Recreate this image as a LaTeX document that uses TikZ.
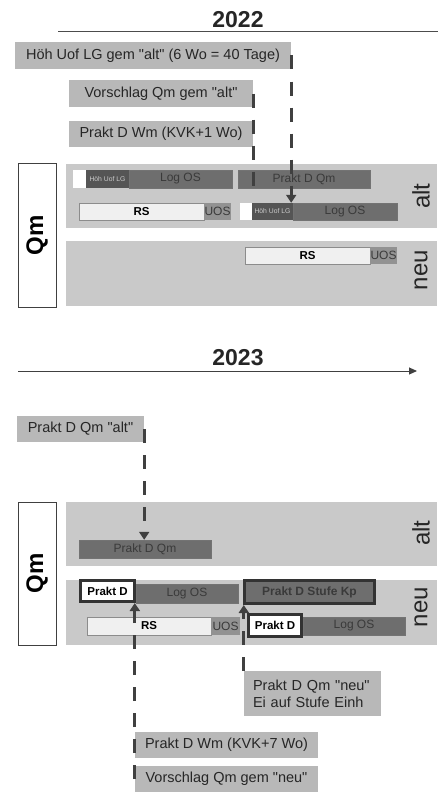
\documentclass[tikz,border=0pt]{standalone}
\usepackage{fontspec}
\setmainfont{Liberation Sans}
\usetikzlibrary{arrows.meta}

\definecolor{bandgray}{HTML}{C9C9C9}
\definecolor{taggray}{HTML}{B8B8B8}
\definecolor{bargray}{HTML}{6E6E6E}
\definecolor{hohgray}{HTML}{555555}
\definecolor{uosgray}{HTML}{929292}
\definecolor{rsgray}{HTML}{F0F0F0}
\definecolor{inkgray}{HTML}{3A3A3A}

\newcommand{\qq}[1]{\textquotedbl #1\textquotedbl}

\begin{document}
\begin{tikzpicture}[x=1pt, y=-1pt,
  year/.style={font=\fontsize{23}{26}\selectfont\bfseries, text=black!85},
  tag/.style={fill=taggray, inner sep=0pt, minimum height=27pt,
    font=\fontsize{14.5}{17}\selectfont, text=black!85},
  band/.style={fill=bandgray, inner sep=0pt, minimum width=371pt},
  qmbox/.style={draw=black!75, fill=white, thick, inner sep=0pt,
    minimum height=38pt, rotate=90, font=\fontsize{24}{26}\selectfont\bfseries},
  side/.style={rotate=90, font=\fontsize{24}{26}\selectfont, text=black!85},
  bar/.style={draw=black!55, fill=bargray, inner sep=0pt, minimum height=18pt,
    text=inkgray, font=\fontsize{12}{14}\selectfont},
  hohbar/.style={fill=hohgray, inner sep=0pt, minimum height=18pt,
    text=black!20, font=\fontsize{6.8}{8}\selectfont},
  blank/.style={fill=white, inner sep=0pt, minimum height=18pt},
  rsbar/.style={draw=black!45, fill=rsgray, inner sep=0pt, minimum height=18pt,
    font=\fontsize{11.5}{14}\selectfont\bfseries},
  uosbar/.style={fill=uosgray, inner sep=0pt, minimum height=18pt,
    text=inkgray, font=\fontsize{12}{14}\selectfont},
  framed/.style={draw=black!80, line width=3pt, inner sep=0pt},
  dline/.style={draw=black!75, line width=3pt, dash pattern=on 14pt off 12pt},
  darr/.style={dline, -{Triangle[width=10pt,length=8pt]}}
]
\useasboundingbox (0,0) rectangle (441,792);

% ---- 2022 ----
\node[year] (y22) at (238,20) {2022};
\draw[black!70, line width=1pt] (58,32) -- (438,32);

\node[tag, minimum width=276pt] (hoh22) at (153,55.5) {Höh Uof LG gem \qq{alt} (6 Wo = 40 Tage)};
\node[tag, minimum width=184pt] (vor22) at (161,93.5) {Vorschlag Qm gem \qq{alt}};
\node[tag, minimum width=184pt, minimum height=26pt] (wm22) at (161,134) {Prakt D Wm (KVK+1 Wo)};

\node[qmbox, minimum width=144pt] (qm22) at (37,235) {Qm};
\node[band, minimum height=64pt] (alt22) at (251.5,196) {};
\node[band, minimum height=65pt] (neu22) at (251.5,273.5) {};
\node[side] (altl22) at (421,196) {alt};
\node[side] (neul22) at (421,270) {neu};

\node[blank, minimum width=13pt] (w1) at (79.5,179) {};
\node[hohbar, minimum width=43pt] (hoh1) at (107.5,179) {Höh Uof LG};
\node[bar, minimum width=103pt] (log1) at (180.5,179) {Log OS};
\node[bar, minimum width=132pt] (pdqm22) at (304,179) {Prakt D Qm};
\node[rsbar, minimum width=125pt, minimum height=17pt] (rs1) at (141.5,211.5) {RS};
\node[uosbar, minimum width=27pt, minimum height=17pt] (uos1) at (217.5,211.5) {UOS};
\node[blank, minimum width=12pt, minimum height=17pt] (w2) at (246,211.5) {};
\node[hohbar, minimum width=41pt, minimum height=17pt] (hoh2) at (272.5,211.5) {Höh Uof LG};
\node[bar, minimum width=104pt, minimum height=17pt] (log2) at (345,211.5) {Log OS};
\node[rsbar, minimum width=125pt, minimum height=17pt] (rs2) at (307.5,255.5) {RS};
\node[uosbar, minimum width=27pt, minimum height=17pt] (uos2) at (383.5,255.5) {UOS};

\draw[dline] (vor22.east) -- (vor22.east |- pdqm22.south);
\draw[darr] (hoh22.east) -- (hoh22.east |- hoh2.north);

% ---- 2023 ----
\node[year] (y23) at (238,358) {2023};
\draw[black!75, line width=1pt, -{Triangle[width=7pt,length=8pt]}] (18,371) -- (417,371);

\node[tag, minimum width=127pt, minimum height=26pt] (pdalt) at (80.5,429) {Prakt D Qm \qq{alt}};

\node[qmbox, minimum width=143pt] (qm23) at (37,573.5) {Qm};
\node[band, minimum height=64pt] (alt23) at (251.5,534) {};
\node[band, minimum height=65pt] (neu23) at (251.5,612.5) {};
\node[side] (altl23) at (421,533) {alt};
\node[side] (neul23) at (421,607) {neu};

\node[bar, minimum width=132pt] (pdqm23) at (145,549) {Prakt D Qm};
\node[bar, minimum width=102pt, minimum height=19pt] (log3) at (187,593.5) {Log OS};
\node[framed, fill=white, minimum width=54pt, minimum height=21pt,
  font=\fontsize{11.5}{14}\selectfont\bfseries] (pd1) at (107.5,591) {Prakt D};
\node[framed, fill=bargray, minimum width=130pt, minimum height=23pt,
  text=inkgray, font=\fontsize{12}{14}\selectfont\bfseries] (kp) at (309.5,592) {Prakt D Stufe Kp};
\node[rsbar, minimum width=124pt] (rs3) at (149,626) {RS};
\node[uosbar, minimum width=29pt] (uos3) at (225.5,626) {UOS};
\node[bar, minimum width=102pt] (log4) at (354,626) {Log OS};
\node[framed, fill=white, minimum width=53pt, minimum height=22pt,
  font=\fontsize{11.5}{14}\selectfont\bfseries] (pd2) at (275,625.5) {Prakt D};

\node[tag, minimum width=137pt, minimum height=45pt, align=left,
  text width=119pt] (pdneu) at (312.5,693.5) {Prakt D Qm \qq{neu}\\Ei auf Stufe Einh};
\node[tag, minimum width=183pt, minimum height=26pt] (wm23) at (226.5,745) {Prakt D Wm (KVK+7 Wo)};
\node[tag, minimum width=183pt, minimum height=26pt] (vorneu) at (226.5,779) {Vorschlag Qm gem \qq{neu}};

\draw[darr] (pdalt.east) -- (pdalt.east |- pdqm23.north);
\draw[darr] (vorneu.west) -- (vorneu.west |- pd1.south);
\draw[darr] (pdneu.north west) -- (pdneu.north west |- kp.south);
\end{tikzpicture}
\end{document}
